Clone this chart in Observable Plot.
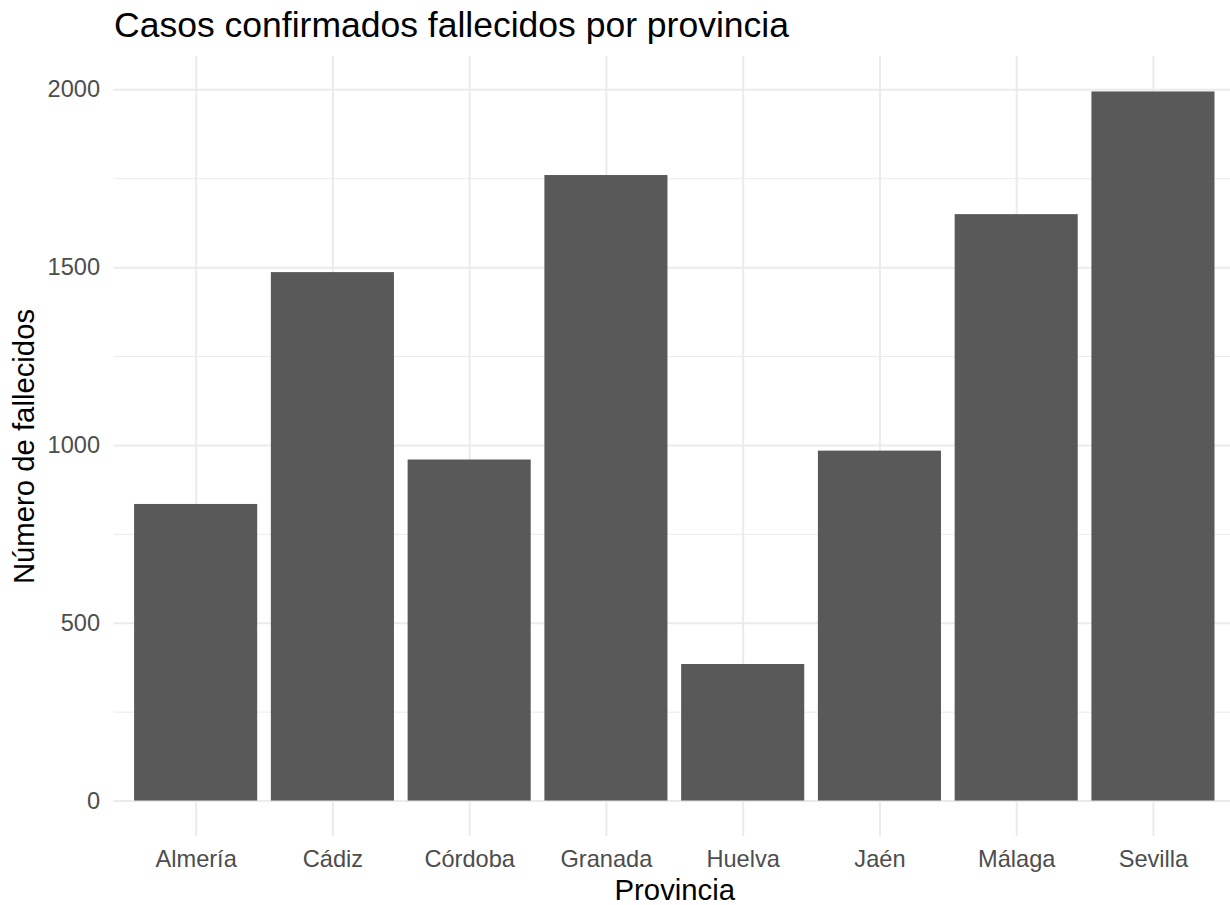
<!DOCTYPE html>
<html><head><meta charset="utf-8">
<script src="https://cdn.jsdelivr.net/npm/d3@7"></script>
<script src="https://cdn.jsdelivr.net/npm/@observablehq/plot@0.6"></script>
<style>html,body{margin:0;padding:0;background:#fff;overflow:hidden}</style>
</head><body><div id="chart"></div>
<script>
const provincias = ["Almería","Cádiz","Córdoba","Granada","Huelva","Jaén","Málaga","Sevilla"];
const fallecidos = [834,1486,959,1759,384,984,1649,1994];
const majorTicks = [0,500,1000,1500,2000];
const minorTicks = [250,750,1250,1750];
const title = "Casos confirmados fallecidos por provincia";
const xLabel = "Provincia";
const yLabel = "Número de fallecidos";

const data = provincias.map((p,i)=>({provincia:p, fallecidos:fallecidos[i]}));
const maxV = d3.max(fallecidos);
const pad = maxV*0.05;

const W=1230, H=905, mL=113.6, mT=56, mB=69;
const plot = Plot.plot({
  width: W, height: H, marginLeft: mL, marginRight: 0, marginTop: mT, marginBottom: mB,
  style: {fontFamily: "'Liberation Sans', Arial, sans-serif", background: "#fff", overflow: "visible"},
  x: {domain: provincias, range: [mL, 1235], paddingInner: 0.1, paddingOuter: 0.15, align: 0.5, round: false},
  y: {domain: [-pad, maxV+pad]},
  marks: [
    Plot.gridY(minorTicks, {stroke:"#EBEBEB", strokeOpacity:1, strokeWidth:1}),
    Plot.gridY(majorTicks, {stroke:"#EBEBEB", strokeOpacity:1, strokeWidth:2}),
    Plot.gridX(provincias, {stroke:"#EBEBEB", strokeOpacity:1, strokeWidth:2}),
    Plot.barY(data, {x:"provincia", y:"fallecidos", fill:"#595959"}),
    Plot.axisY(majorTicks, {tickSize:0, tickPadding:14, fontSize:23.6, color:"#4D4D4D", label:null, tickFormat: d3.format("d")}),
    Plot.axisX(provincias, {tickSize:0, tickPadding:14.2, fontSize:23.6, color:"#4D4D4D", label:null}),
    Plot.text([title], {frameAnchor:"top-left", textAnchor:"start", lineAnchor:"bottom", dy:-20, fontSize:35.5, fill:"#000"}),
    Plot.text([yLabel], {frameAnchor:"left", rotate:-90, textAnchor:"middle", lineAnchor:"bottom", dx:33-mL, fontSize:29.3, fill:"#000"}),
    Plot.text([xLabel], {frameAnchor:"bottom", textAnchor:"middle", lineAnchor:"bottom", dx:2.5, dy:63, fontSize:29.3, fill:"#000"})
  ]
});
document.getElementById("chart").appendChild(plot);
</script>
</body></html>
